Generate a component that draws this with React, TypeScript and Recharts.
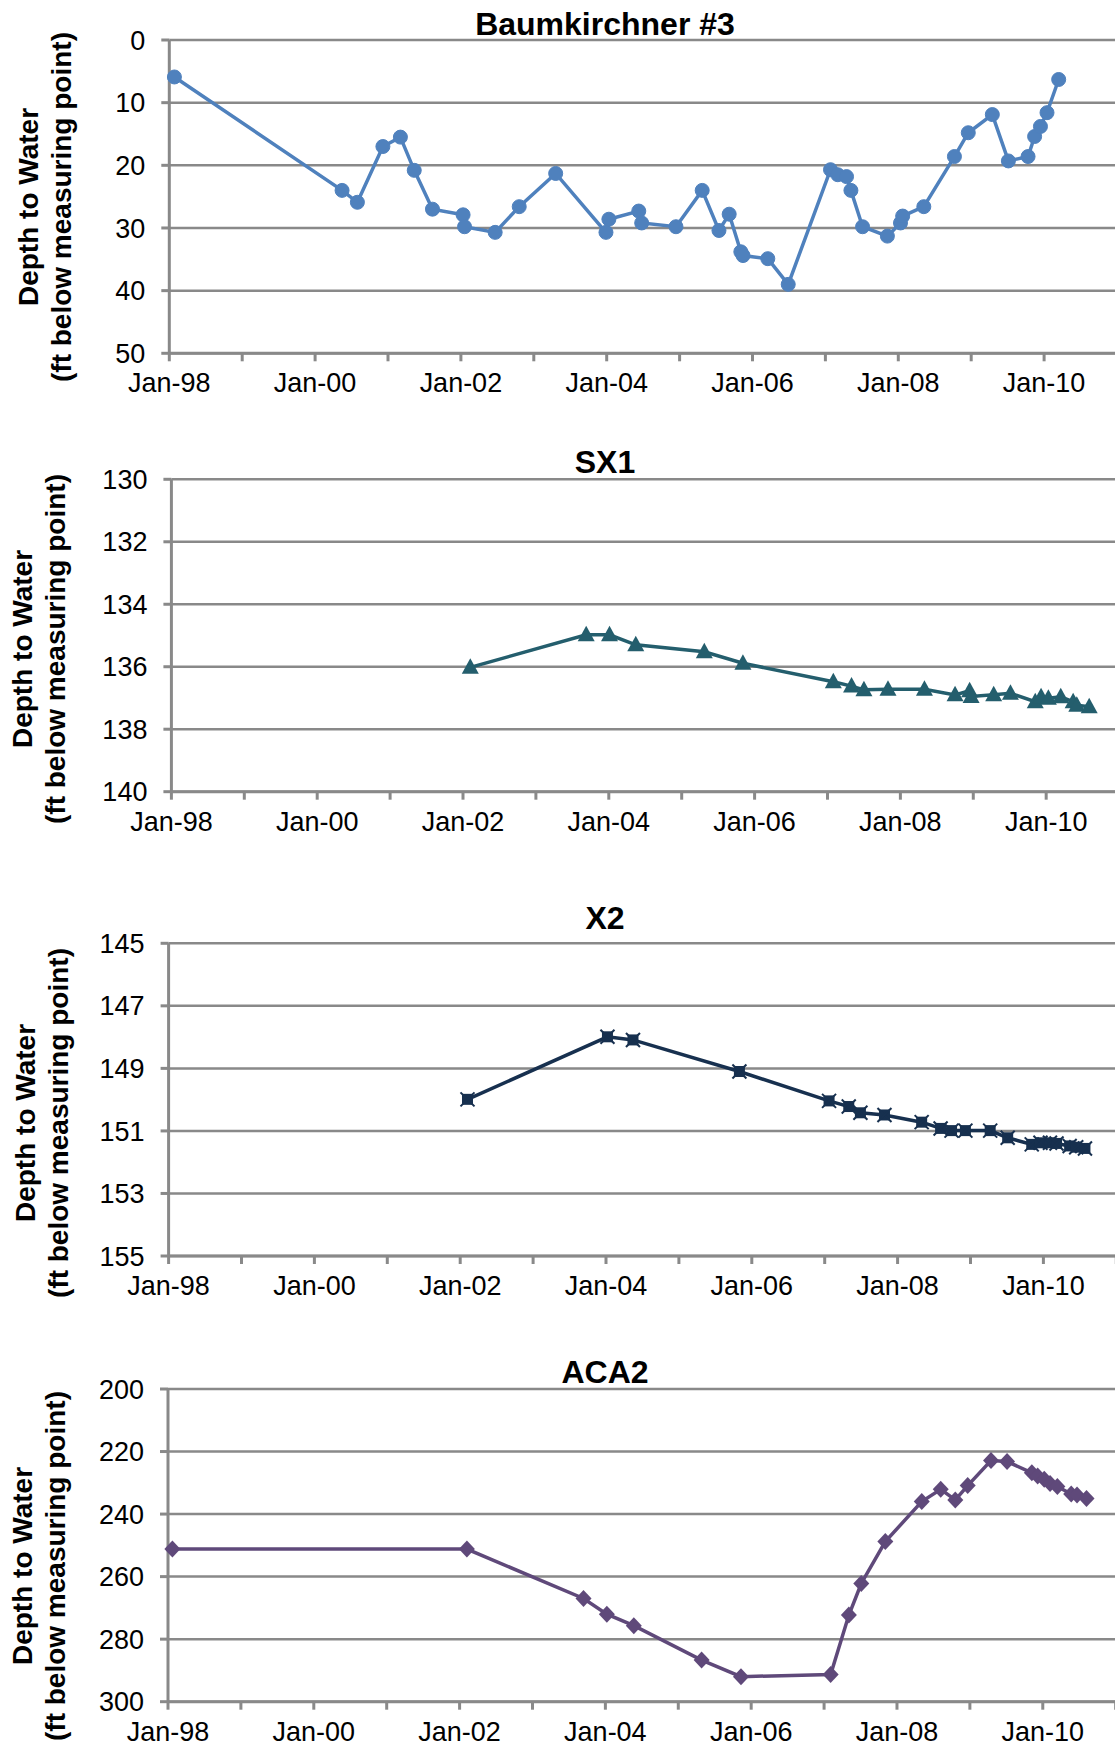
import React from "react";
import { LineChart, Line, XAxis, YAxis, CartesianGrid } from "recharts";

// ─── Data ────────────────────────────────────────────────────────────────────
// x values are decimal years (1998.0 = Jan-98)

const YEAR_TICKS = [1998, 1999, 2000, 2001, 2002, 2003, 2004, 2005, 2006, 2007, 2008, 2009, 2010, 2011];

// Baumkirchner #3
const baumDates = [
  1998.07, 2000.37, 2000.58, 2000.93, 2001.17, 2001.36, 2001.61, 2002.03, 2002.05, 2002.47,
  2002.8, 2003.3, 2003.99, 2004.03, 2004.44, 2004.48, 2004.95, 2005.31, 2005.54, 2005.68,
  2005.84, 2005.87, 2006.21, 2006.49, 2007.07, 2007.17, 2007.29, 2007.35, 2007.51, 2007.85,
  2008.03, 2008.06, 2008.35, 2008.77, 2008.96, 2009.29, 2009.51, 2009.78, 2009.87, 2009.95,
  2010.04, 2010.2,
];
const baumDepth = [
  5.9, 24.0, 25.9, 17.0, 15.5, 20.8, 27.0, 27.9, 29.8, 30.7,
  26.6, 21.3, 30.7, 28.6, 27.3, 29.2, 29.8, 24.0, 30.4, 27.8,
  33.8, 34.4, 34.9, 39.0, 20.7, 21.5, 21.8, 24.0, 29.8, 31.3,
  29.2, 28.1, 26.6, 18.6, 14.8, 11.9, 19.3, 18.6, 15.4, 13.8,
  11.6, 6.3,
];
const baumTicks = [0, 10, 20, 30, 40, 50];

// SX1
const sx1Dates = [
  2002.1, 2003.69, 2004.01, 2004.37, 2005.31, 2005.84, 2007.08, 2007.33, 2007.5, 2007.83,
  2008.33, 2008.75, 2008.95, 2008.97, 2009.28, 2009.51, 2009.85, 2009.93, 2010.03, 2010.2,
  2010.37, 2010.42, 2010.59,
];
const sx1Depth = [
  136.02, 134.98, 134.98, 135.3, 135.52, 135.89, 136.48, 136.62, 136.74, 136.72,
  136.72, 136.9, 136.77, 136.95, 136.9, 136.85, 137.12, 136.96, 137.01, 136.96,
  137.12, 137.23, 137.28,
];
const sx1Ticks = [130, 132, 134, 136, 138, 140];

// X2
const x2Dates = [
  2002.1, 2004.02, 2004.37, 2005.83, 2007.06, 2007.33, 2007.49, 2007.82, 2008.33, 2008.59,
  2008.74, 2008.93, 2009.27, 2009.51, 2009.84, 2009.96, 2010.09, 2010.18, 2010.36, 2010.45,
  2010.57,
];
const x2Depth = [
  149.99, 147.99, 148.09, 149.1, 150.04, 150.22, 150.42, 150.49, 150.72, 150.92,
  150.99, 150.99, 150.99, 151.22, 151.43, 151.38, 151.38, 151.4, 151.48, 151.52,
  151.56,
];
const x2Ticks = [145, 147, 149, 151, 153, 155];

// ACA2
const aca2Dates = [
  1998.06, 2002.1, 2003.7, 2004.02, 2004.39, 2005.32, 2005.86, 2007.09, 2007.34, 2007.51,
  2007.84, 2008.34, 2008.6, 2008.8, 2008.97, 2009.29, 2009.51, 2009.85, 2009.93, 2010.02,
  2010.1, 2010.2, 2010.39, 2010.47, 2010.6,
];
const aca2Depth = [
  251.2, 251.2, 267.0, 272.0, 275.7, 286.7, 292.0, 291.3, 272.3, 262.2,
  248.8, 236.0, 232.1, 235.5, 230.9, 222.9, 223.2, 226.8, 227.8, 228.9,
  230.2, 231.2, 233.6, 233.9, 235.0,
];
const aca2Ticks = [200, 220, 240, 260, 280, 300];

// ─── Styling ─────────────────────────────────────────────────────────────────

const FONT = "'Liberation Sans', Arial, sans-serif";
const GRID = "#898989";
const PX_PER_YEAR = 72.9;

const fmtYear = (v: number) => {
  const y = Math.round(v);
  if (y % 2 !== 0 || y > 2010) return "";
  return `Jan-${String(y).slice(2)}`;
};

// ─── Markers ─────────────────────────────────────────────────────────────────

const circleDot = (color: string) => (p: any) => (
  <circle key={p.index} cx={p.cx} cy={p.cy} r={7} fill={color} stroke={color} />
);

const triangleDot = (color: string) => (p: any) => (
  <polygon
    key={p.index}
    points={`${p.cx},${p.cy - 9} ${p.cx - 8.5},${p.cy + 6.5} ${p.cx + 8.5},${p.cy + 6.5}`}
    fill={color}
  />
);

const squareXDot = (color: string) => (p: any) => (
  <g key={p.index}>
    <rect x={p.cx - 5.5} y={p.cy - 5.5} width={11} height={11} fill={color} />
    <line x1={p.cx - 7} y1={p.cy - 7} x2={p.cx + 7} y2={p.cy + 7} stroke={color} strokeWidth={2} />
    <line x1={p.cx - 7} y1={p.cy + 7} x2={p.cx + 7} y2={p.cy - 7} stroke={color} strokeWidth={2} />
  </g>
);

const diamondDot = (color: string) => (p: any) => (
  <polygon
    key={p.index}
    points={`${p.cx},${p.cy - 8.5} ${p.cx + 8},${p.cy} ${p.cx},${p.cy + 8.5} ${p.cx - 8},${p.cy}`}
    fill={color}
  />
);

// ─── Panel ───────────────────────────────────────────────────────────────────

interface PanelProps {
  title: string;
  dates: number[];
  values: number[];
  yTicks: number[];
  color: string;
  dot: (p: any) => React.ReactElement;
  top: number;
  plotTop: number;
  plotLeft: number;
  plotHeight: number;
  titleBase: number;
  labelX: number;
  labelCenter: number;
  blockHeight: number;
}

function Panel(props: PanelProps) {
  const data = props.dates.map((x, i) => ({ x, y: props.values[i] }));
  const width = props.plotLeft + 13 * PX_PER_YEAR;
  const height = props.plotTop + props.plotHeight + 48;
  const lx = props.labelX;
  const ly = props.labelCenter;

  return (
    <div
      style={{
        position: "absolute",
        top: props.top,
        left: 0,
        width: 1115,
        height: props.blockHeight,
        overflow: "hidden",
      }}
    >
      <LineChart
        width={width}
        height={height}
        data={data}
        margin={{ top: props.plotTop, right: 0, bottom: 0, left: 0 }}
      >
        <CartesianGrid vertical={false} stroke={GRID} strokeWidth={2.5} />
        <XAxis
          type="number"
          dataKey="x"
          domain={[1998, 2011]}
          ticks={YEAR_TICKS}
          interval={0}
          tickFormatter={fmtYear}
          height={48}
          tickSize={8}
          tickMargin={12}
          axisLine={{ stroke: GRID, strokeWidth: 3 }}
          tickLine={{ stroke: GRID, strokeWidth: 3 }}
          tick={{ fill: "#000", fontSize: 27, fontFamily: FONT }}
        />
        <YAxis
          type="number"
          reversed
          domain={[props.yTicks[0], props.yTicks[props.yTicks.length - 1]]}
          ticks={props.yTicks}
          interval={0}
          width={props.plotLeft}
          tickSize={8}
          tickMargin={16}
          axisLine={{ stroke: GRID, strokeWidth: 3 }}
          tickLine={{ stroke: GRID, strokeWidth: 3 }}
          tick={{ fill: "#000", fontSize: 27, fontFamily: FONT }}
        />
        <Line
          type="linear"
          dataKey="y"
          stroke={props.color}
          strokeWidth={3.5}
          dot={props.dot}
          activeDot={false}
          isAnimationActive={false}
        />
      </LineChart>
      <svg
        width={1115}
        height={props.blockHeight}
        style={{ position: "absolute", top: 0, left: 0, pointerEvents: "none" }}
      >
        <text x={605} y={props.titleBase} textAnchor="middle" fontFamily={FONT} fontWeight="bold" fontSize={32}>
          {props.title}
        </text>
        <text
          transform={`rotate(-90, ${lx}, ${ly})`}
          textAnchor="middle"
          fontFamily={FONT}
          fontWeight="bold"
          fontSize={28}
        >
          <tspan x={lx} y={ly}>Depth to Water</tspan>
          <tspan x={lx} y={ly + 33}>(ft below measuring point)</tspan>
        </text>
      </svg>
    </div>
  );
}

export default function App() {
  return (
    <div style={{ position: "relative", width: 1115, height: 1750, background: "#fff", overflow: "hidden" }}>
      <style>{"body{margin:0}"}</style>
      <Panel
        title="Baumkirchner #3"
        dates={baumDates}
        values={baumDepth}
        yTicks={baumTicks}
        color="#4F81BD"
        dot={circleDot("#4F81BD")}
        top={0}
        plotTop={40}
        plotLeft={169.3}
        plotHeight={313.3}
        titleBase={35}
        labelX={38}
        labelCenter={207}
        blockHeight={440}
      />
      <Panel
        title="SX1"
        dates={sx1Dates}
        values={sx1Depth}
        yTicks={sx1Ticks}
        color="#245E6D"
        dot={triangleDot("#245E6D")}
        top={440}
        plotTop={39.3}
        plotLeft={171.4}
        plotHeight={312.4}
        titleBase={33.3}
        labelX={32}
        labelCenter={209}
        blockHeight={460}
      />
      <Panel
        title="X2"
        dates={x2Dates}
        values={x2Depth}
        yTicks={x2Ticks}
        color="#17304F"
        dot={squareXDot("#17304F")}
        top={900}
        plotTop={43.3}
        plotLeft={168.6}
        plotHeight={312.7}
        titleBase={29.3}
        labelX={35}
        labelCenter={223}
        blockHeight={445}
      />
      <Panel
        title="ACA2"
        dates={aca2Dates}
        values={aca2Depth}
        yTicks={aca2Ticks}
        color="#5F497A"
        dot={diamondDot("#5F497A")}
        top={1345}
        plotTop={44}
        plotLeft={168}
        plotHeight={312.7}
        titleBase={38.3}
        labelX={32}
        labelCenter={221}
        blockHeight={405}
      />
    </div>
  );
}
